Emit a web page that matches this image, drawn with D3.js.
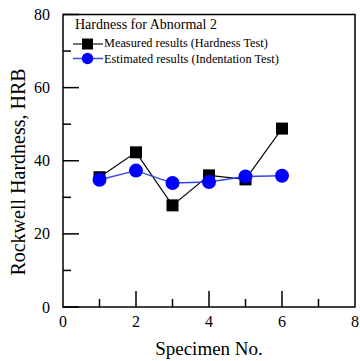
<!DOCTYPE html>
<html>
<head>
<meta charset="utf-8">
<script src="https://cdn.jsdelivr.net/npm/d3@7"></script>
<style>
  body { margin: 0; background: #fff; }
</style>
</head>
<body>
<svg id="chart" width="360" height="361" font-family="'Liberation Serif', 'Times New Roman', Times, 'DejaVu Serif', serif"></svg>
<script>
// data
const specimens = [1, 2, 3, 4, 5, 6];
const measured = [35.5, 42.3, 27.8, 36.0, 34.9, 48.8];
const estimated = [34.8, 37.3, 33.9, 34.2, 35.7, 35.9];
const xTicks = [0, 2, 4, 6, 8];
const yTicks = [0, 20, 40, 60, 80];
const legendTitle = 'Hardness for Abnormal 2';
const seriesNames = ['Measured results (Hardness Test)', 'Estimated results (Indentation Test)'];

const svg = d3.select('#chart');
const m = { left: 63, right: 355, top: 14.5, bottom: 307 };
const blueLine = '#3344ee';

const x = d3.scaleLinear().domain([0, 8]).range([m.left, m.right]);
const y = d3.scaleLinear().domain([0, 80]).range([m.bottom, m.top]);

// frame
svg.append('rect')
  .attr('x', m.left).attr('y', m.top)
  .attr('width', m.right - m.left).attr('height', m.bottom - m.top)
  .attr('fill', 'none').attr('stroke', '#000').attr('stroke-width', 1.5);

// ticks (inside)
const tickG = svg.append('g').attr('stroke', '#000').attr('stroke-width', 1.5);
d3.range(0, 81, 10).forEach((v) => {
  const len = v % 20 === 0 ? 16 : 8;
  tickG.append('line').attr('x1', m.left).attr('x2', m.left + len)
    .attr('y1', y(v)).attr('y2', y(v));
});
d3.range(1, 8).forEach((v) => {
  const len = v % 2 === 0 ? 16 : 8;
  tickG.append('line').attr('y1', m.bottom).attr('y2', m.bottom - len)
    .attr('x1', x(v)).attr('x2', x(v));
});

// tick labels
svg.append('g').selectAll('text').data(yTicks).enter()
  .append('text')
  .attr('x', 50).attr('y', d => y(d) + 5.5)
  .attr('text-anchor', 'end').attr('font-size', 16)
  .text(d => d);
svg.append('g').selectAll('text').data(xTicks).enter()
  .append('text')
  .attr('x', d => x(d)).attr('y', 327)
  .attr('text-anchor', 'middle').attr('font-size', 16)
  .text(d => d);

// axis titles
svg.append('text')
  .attr('x', x(4)).attr('y', 355)
  .attr('text-anchor', 'middle').attr('font-size', 19)
  .text('Specimen No.');
svg.append('text')
  .attr('transform', 'translate(25,172)rotate(-90)')
  .attr('text-anchor', 'middle').attr('font-size', 20)
  .text('Rockwell Hardness, HRB');

// series
const line = d3.line().x(d => x(d[0])).y(d => y(d[1]));
const mPts = specimens.map((s, i) => [s, measured[i]]);
const ePts = specimens.map((s, i) => [s, estimated[i]]);

svg.append('path').datum(mPts).attr('d', line)
  .attr('fill', 'none').attr('stroke', '#000').attr('stroke-width', 1.1);
svg.append('g').selectAll('rect').data(mPts).enter()
  .append('rect')
  .attr('x', d => x(d[0]) - 6).attr('y', d => y(d[1]) - 6)
  .attr('width', 12).attr('height', 12).attr('fill', '#000');

svg.append('path').datum(ePts).attr('d', line)
  .attr('fill', 'none').attr('stroke', blueLine).attr('stroke-width', 1.4);
svg.append('g').selectAll('circle').data(ePts).enter()
  .append('circle')
  .attr('cx', d => x(d[0])).attr('cy', d => y(d[1]))
  .attr('r', 7).attr('fill', '#0000ff');

// legend
const lg = svg.append('g');
lg.append('text').attr('x', 75).attr('y', 29).attr('font-size', 14).text(legendTitle);
lg.append('line').attr('x1', 73).attr('x2', 103).attr('y1', 44).attr('y2', 44)
  .attr('stroke', '#000').attr('stroke-width', 1.1);
lg.append('rect').attr('x', 82).attr('y', 38.5).attr('width', 11).attr('height', 11).attr('fill', '#000');
lg.append('text').attr('x', 104).attr('y', 47).attr('font-size', 12.3).text(seriesNames[0]);
lg.append('line').attr('x1', 73).attr('x2', 103).attr('y1', 58.5).attr('y2', 58.5)
  .attr('stroke', blueLine).attr('stroke-width', 1.4);
lg.append('circle').attr('cx', 87.5).attr('cy', 58.5).attr('r', 5.7).attr('fill', '#0000ff');
lg.append('text').attr('x', 104).attr('y', 63).attr('font-size', 12.3).text(seriesNames[1]);
</script>
</body>
</html>
